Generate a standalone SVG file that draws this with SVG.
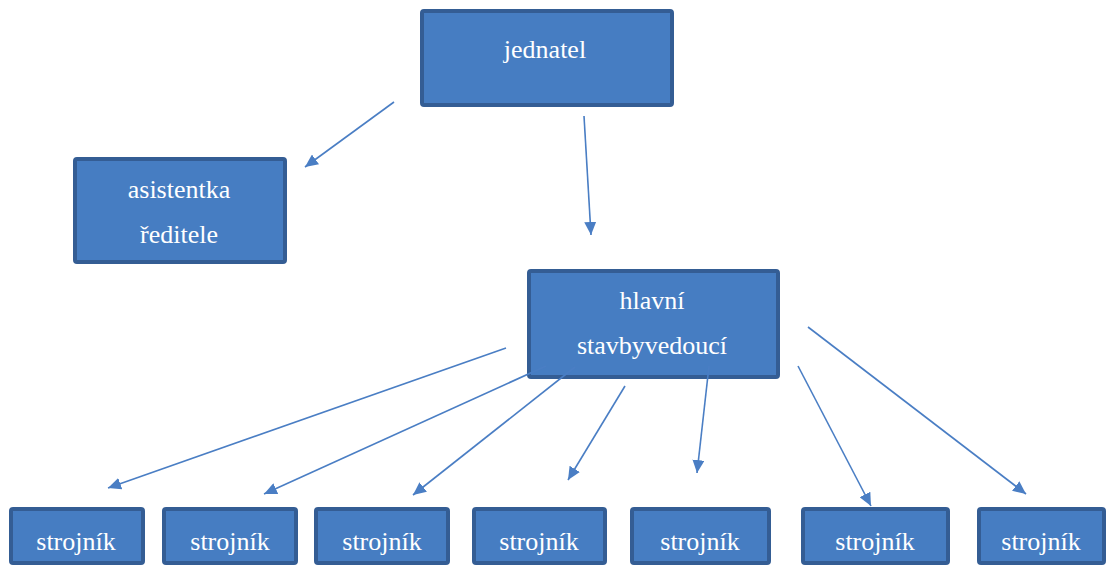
<svg xmlns="http://www.w3.org/2000/svg" width="1107" height="566" viewBox="0 0 1107 566">
<style>
.box{fill:#467dc2;stroke:#345d94;stroke-width:4}
.lbl{font-family:"Liberation Serif","Times New Roman",serif;font-size:26px;fill:#ffffff;text-anchor:middle}
.con{stroke:#4a7ec4;stroke-width:1.6;fill:none;marker-end:url(#ah)}
</style>
<defs>
<marker id="ah" markerUnits="userSpaceOnUse" markerWidth="13" markerHeight="12" refX="13" refY="6" orient="auto">
<path d="M0,0 L13,6 L0,12 z" fill="#4a7ec4"/>
</marker>
</defs>
<rect width="1107" height="566" fill="#ffffff"/>
<g id="jednatel"><rect class="box" x="422" y="11" width="250" height="94" rx="2"/><text class="lbl" x="545" y="58">jednatel</text></g>
<g id="asistentka"><rect class="box" x="75" y="159" width="210" height="103" rx="2"/><text class="lbl" x="179" y="198">asistentka</text><text class="lbl" x="179" y="243">ředitele</text></g>
<g id="hlavni"><rect class="box" x="529" y="271" width="249" height="106" rx="2"/><text class="lbl" x="652" y="309">hlavní</text><text class="lbl" x="652" y="354">stavbyvedoucí</text></g>
<g id="strojnik1"><rect class="box" x="11" y="509" width="132" height="54" rx="2"/><text class="lbl" x="76" y="550">strojník</text></g>
<g id="strojnik2"><rect class="box" x="164" y="509" width="132" height="54" rx="2"/><text class="lbl" x="230" y="550">strojník</text></g>
<g id="strojnik3"><rect class="box" x="316" y="509" width="132" height="54" rx="2"/><text class="lbl" x="382" y="550">strojník</text></g>
<g id="strojnik4"><rect class="box" x="474" y="509" width="131" height="54" rx="2"/><text class="lbl" x="539" y="550">strojník</text></g>
<g id="strojnik5"><rect class="box" x="632" y="509" width="137" height="54" rx="2"/><text class="lbl" x="700" y="550">strojník</text></g>
<g id="strojnik6"><rect class="box" x="803" y="509" width="145" height="54" rx="2"/><text class="lbl" x="875" y="550">strojník</text></g>
<g id="strojnik7"><rect class="box" x="979" y="509" width="125" height="54" rx="2"/><text class="lbl" x="1041" y="550">strojník</text></g>
<g id="connectors">
<line class="con" x1="394" y1="102" x2="305" y2="167"/>
<line class="con" x1="584" y1="116" x2="591" y2="235"/>
<line class="con" x1="506" y1="348" x2="108" y2="488"/>
<line class="con" x1="546" y1="366" x2="264" y2="494"/>
<line class="con" x1="575" y1="367" x2="413" y2="495"/>
<line class="con" x1="625" y1="386" x2="568" y2="480"/>
<line class="con" x1="709" y1="366" x2="697" y2="473"/>
<line class="con" x1="798" y1="366" x2="871" y2="506"/>
<line class="con" x1="808" y1="327" x2="1026" y2="494"/>
</g>
</svg>
